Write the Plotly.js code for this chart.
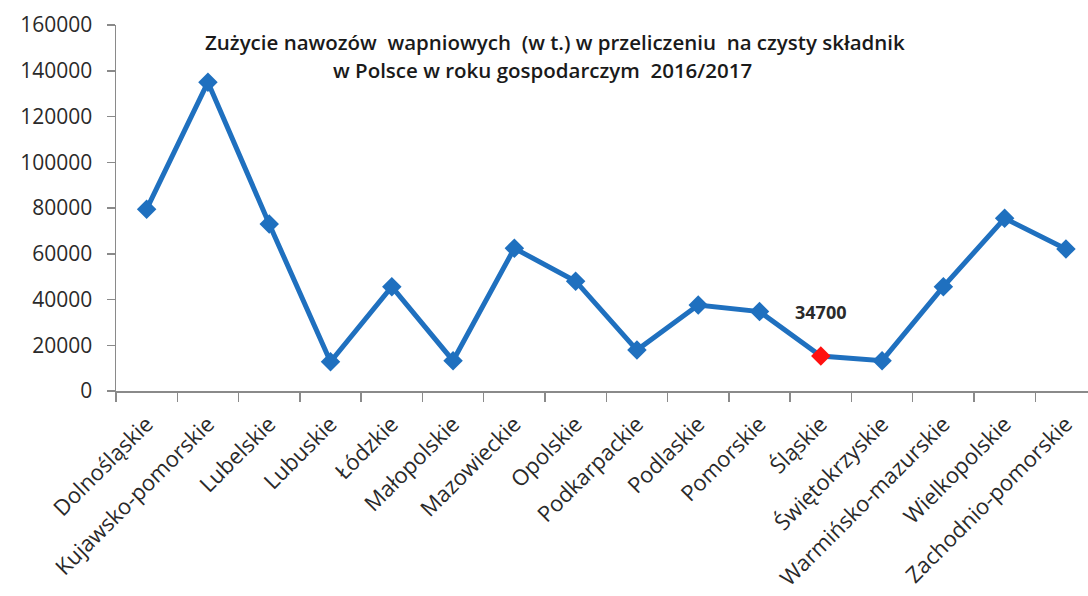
<!DOCTYPE html>
<html>
<head>
<meta charset="utf-8">
<script src="https://cdn.plot.ly/plotly-3.0.1.min.js"></script>
<style>html,body{margin:0;padding:0;background:#fff;}#chart{width:1088px;height:596px;}</style>
</head>
<body>
<div id="chart"></div>
<script>
const categories = ["Dolnośląskie","Kujawsko-pomorskie","Lubelskie","Lubuskie","Łódzkie","Małopolskie","Mazowieckie","Opolskie","Podkarpackie","Podlaskie","Pomorskie","Śląskie","Świętokrzyskie","Warmińsko-mazurskie","Wielkopolskie","Zachodnio-pomorskie"];
const values = [79500, 135000, 73000, 12800, 45600, 13250, 62400, 48000, 17900, 37600, 34700, 15300, 13250, 45600, 75500, 62100];
const yTicks = [0, 20000, 40000, 60000, 80000, 100000, 120000, 140000, 160000];
const highlightIndex = 11;
const labelIndex = 10;
const titleLines = ["Zużycie nawozów  wapniowych  (w t.) w przeliczeniu  na czysty składnik", "w Polsce w roku gospodarczym  2016/2017"];

const blue = "#1f70bf";
const markerColors = categories.map((c, i) => i === highlightIndex ? "#ff1010" : blue);

const trace = {
  type: "scatter",
  mode: "lines+markers",
  x: categories,
  y: values,
  line: {color: blue, width: 5},
  marker: {symbol: "diamond", size: 15, color: markerColors, line: {width: 0}},
  hoverinfo: "x+y"
};

const layout = {
  width: 1088,
  height: 596,
  margin: {l: 116, r: 0, t: 25, b: 205},
  paper_bgcolor: "#ffffff",
  plot_bgcolor: "#ffffff",
  showlegend: false,
  font: {family: "Open Sans, sans-serif", color: "#2a2a2a"},
  xaxis: {
    type: "category",
    range: [-0.5, 15.36],
    showline: true,
    linecolor: "#8a8a8a",
    linewidth: 1.5,
    ticks: "outside",
    tickson: "boundaries",
    ticklen: 9,
    tickcolor: "#8a8a8a",
    tickwidth: 1.5,
    showgrid: false,
    zeroline: false,
    tickangle: -45,
    ticklabelstandoff: 10,
    tickfont: {family: "Open Sans, sans-serif", size: 22, color: "#2a2a2a"}
  },
  yaxis: {
    range: [0, 160000],
    tickvals: yTicks,
    ticktext: yTicks.map(String),
    showline: true,
    linecolor: "#8a8a8a",
    linewidth: 1.5,
    ticks: "outside",
    ticklen: 8,
    tickcolor: "#8a8a8a",
    tickwidth: 1.5,
    showgrid: false,
    zeroline: false,
    ticklabelstandoff: 10,
    tickfont: {family: "Open Sans, sans-serif", size: 21, color: "#2a2a2a"}
  },
  annotations: [
    {
      xref: "paper", yref: "paper",
      x: (555 - 116) / (1088 - 116), y: 1 - (42 - 25) / (391 - 25),
      xanchor: "center", yanchor: "middle",
      text: titleLines[0],
      showarrow: false,
      font: {family: "Open Sans, sans-serif", size: 20.5, weight: 600, color: "#1a1a1a"}
    },
    {
      xref: "paper", yref: "paper",
      x: (542 - 116) / (1088 - 116), y: 1 - (70 - 25) / (391 - 25),
      xanchor: "center", yanchor: "middle",
      text: titleLines[1],
      showarrow: false,
      font: {family: "Open Sans, sans-serif", size: 20.5, weight: 600, color: "#1a1a1a"}
    },
    {
      xref: "x", yref: "y",
      x: categories[highlightIndex],
      y: values[labelIndex],
      xanchor: "center", yanchor: "middle",
      text: "<b>" + String(values[labelIndex]) + "</b>",
      showarrow: false,
      font: {family: "Open Sans, sans-serif", size: 18, color: "#2a2a2a"}
    }
  ]
};

Plotly.newPlot("chart", [trace], layout, {displayModeBar: false, staticPlot: true});
</script>
</body>
</html>
